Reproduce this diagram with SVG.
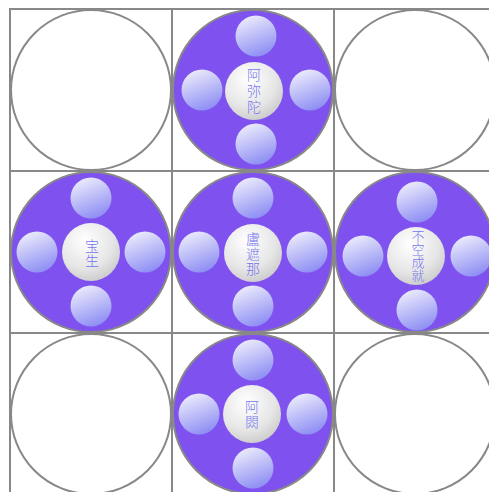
<svg xmlns="http://www.w3.org/2000/svg" width="489" height="492" viewBox="0 0 489 492">
<defs>
<linearGradient id="sg" x1="0.3" y1="0" x2="0.7" y2="1">
<stop offset="0" stop-color="#ececfc"/>
<stop offset="1" stop-color="#8a8af4"/>
</linearGradient>
<radialGradient id="cg" cx="0.4" cy="0.3" r="0.8">
<stop offset="0" stop-color="#ffffff"/>
<stop offset="0.6" stop-color="#e6e6e6"/>
<stop offset="1" stop-color="#c4c4c4"/>
</radialGradient>
<style>
.grid{stroke:#888;stroke-width:2;fill:none}
.big{stroke:#888;stroke-width:2}
.empty{fill:#fff}
.full{fill:#7f52ef}
.sm{fill:url(#sg)}
.ctr{fill:url(#cg)}
.t{font-family:"Noto Sans CJK SC","Noto Sans CJK TC",sans-serif;font-size:14px;fill:#7676ee;text-anchor:middle;font-weight:300;writing-mode:vertical-rl;text-orientation:upright}
</style>
</defs>
<rect width="489" height="492" fill="#fff"/>
<g id="grid" class="grid">
<rect x="10" y="9" width="486" height="486"/>
<line x1="172" y1="9" x2="172" y2="495"/>
<line x1="334" y1="9" x2="334" y2="495"/>
<line x1="10" y1="171" x2="496" y2="171"/>
<line x1="10" y1="333" x2="496" y2="333"/>
</g>
<g id="empty-tl"><circle class="big empty" cx="91" cy="90" r="80"/></g>
<g id="empty-tr"><circle class="big empty" cx="415" cy="90" r="80"/></g>
<g id="empty-bl"><circle class="big empty" cx="91" cy="414" r="80"/></g>
<g id="empty-br"><circle class="big empty" cx="415" cy="414" r="80"/></g>
<g id="amitabha">
<circle class="big full" cx="253" cy="90" r="80"/>
<circle class="sm" cx="256" cy="36" r="20.5"/>
<circle class="sm" cx="202" cy="90" r="20.5"/>
<circle class="sm" cx="310" cy="90" r="20.5"/>
<circle class="sm" cx="256" cy="144" r="20.5"/>
<circle class="ctr" cx="254" cy="91" r="29"/>
<text class="t" x="254" y="92" style="letter-spacing:2px">阿弥陀</text>
</g>
<g id="ratnasambhava">
<circle class="big full" cx="91" cy="252" r="80"/>
<circle class="sm" cx="91" cy="198" r="20.5"/>
<circle class="sm" cx="37" cy="252" r="20.5"/>
<circle class="sm" cx="145" cy="252" r="20.5"/>
<circle class="sm" cx="91" cy="306" r="20.5"/>
<circle class="ctr" cx="91" cy="252" r="29"/>
<text class="t" x="92" y="254" style="letter-spacing:1px">宝生</text>
</g>
<g id="vairocana">
<circle class="big full" cx="253" cy="252" r="80"/>
<circle class="sm" cx="253" cy="198" r="20.5"/>
<circle class="sm" cx="199" cy="252" r="20.5"/>
<circle class="sm" cx="307" cy="252" r="20.5"/>
<circle class="sm" cx="253" cy="306" r="20.5"/>
<circle class="ctr" cx="253" cy="253" r="29"/>
<text class="t" x="253" y="254" style="letter-spacing:1px">盧遮那</text>
</g>
<g id="amoghasiddhi">
<circle class="big full" cx="415" cy="252" r="80"/>
<circle class="sm" cx="417" cy="202" r="20.5"/>
<circle class="sm" cx="363" cy="256" r="20.5"/>
<circle class="sm" cx="471" cy="256" r="20.5"/>
<circle class="sm" cx="417" cy="310" r="20.5"/>
<circle class="ctr" cx="416" cy="256" r="29"/>
<text class="t" x="418" y="256" style="font-size:13px">不空成就</text>
</g>
<g id="akshobhya">
<circle class="big full" cx="253" cy="414" r="80"/>
<circle class="sm" cx="253" cy="360" r="20.5"/>
<circle class="sm" cx="199" cy="414" r="20.5"/>
<circle class="sm" cx="307" cy="414" r="20.5"/>
<circle class="sm" cx="253" cy="468" r="20.5"/>
<circle class="ctr" cx="252" cy="414" r="29"/>
<text class="t" x="252" y="414.5" style="letter-spacing:1px">阿閦</text>
</g>
</svg>
